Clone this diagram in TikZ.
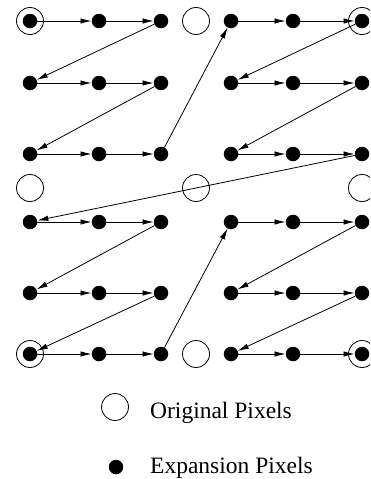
\documentclass[tikz,border=0pt]{standalone}
\usepackage{fontspec}
\setmainfont{Liberation Serif}
\usetikzlibrary{arrows.meta}
\tikzset{
  dot/.style={circle, fill=black, draw=none, inner sep=0pt, minimum size=14.5pt},
  orig/.style={circle, draw=black, line width=0.8pt, inner sep=0pt, minimum size=27pt},
  conn/.style={-{Latex[length=11pt,width=5.5pt]}, line width=0.8pt},
  legtext/.style={anchor=base west, inner sep=0pt, font=\fontsize{23.5}{27}\selectfont}
}
\begin{document}
\begin{tikzpicture}[x=1pt,y=-1pt]
\useasboundingbox (0,0) rectangle (370,479);
\clip (0,0) rectangle (370,479);
% expansion pixels
\foreach \i/\y in {1/21,2/83,3/154,4/222,5/293,6/354}
  \foreach \j/\x in {1/30,2/99,3/161,4/231,5/293,6/362}
    \node[dot] (d\i\j) at (\x,\y) {};
% original pixels
\foreach \i/\y in {1/21,m/188,6/354}
  \foreach \j/\x in {1/30,m/196,6/362}
    \node[orig] (o\i\j) at (\x,\y) {};
% horizontal connectors
\foreach \i in {1,...,6} {
  \draw[conn] (d\i1) -- (d\i2);
  \draw[conn] (d\i2) -- (d\i3);
  \draw[conn] (d\i4) -- (d\i5);
  \draw[conn] (d\i5) -- (d\i6);
}
% diagonal connectors
\draw[conn] (d13) -- (d21);
\draw[conn] (d23) -- (d31);
\draw[conn] (d43) -- (d51);
\draw[conn] (d53) -- (d61);
\draw[conn] (d16) -- (d24);
\draw[conn] (d26) -- (d34);
\draw[conn] (d46) -- (d54);
\draw[conn] (d56) -- (d64);
\draw[conn] (d33) -- (d14);
\draw[conn] (d36) -- (d41);
\draw[conn] (d63) -- (d44);
% legend
\node[orig] (lo) at (115,407) {};
\node[dot] (ld) at (116,467) {};
\node[legtext] (lot) at (150,418) {Original Pixels};
\node[legtext] (ldt) at (150,473) {Expansion Pixels};
\end{tikzpicture}
\end{document}
